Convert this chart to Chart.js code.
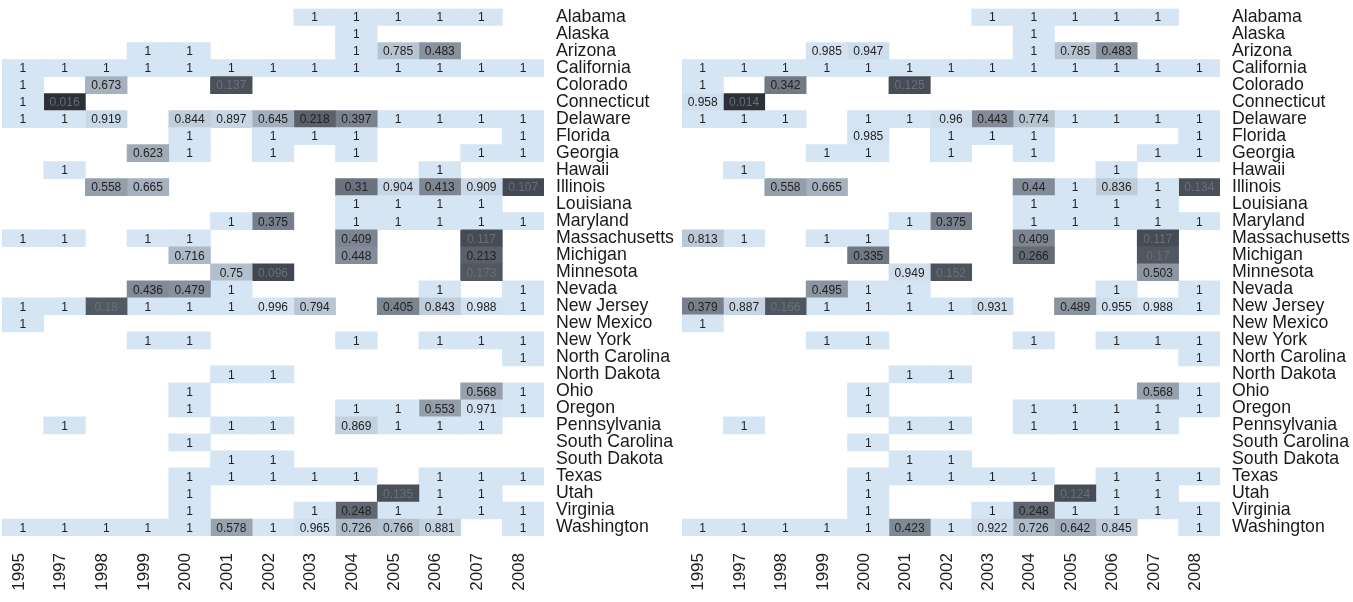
<!DOCTYPE html>
<html>
<head>
<meta charset="utf-8">
<script src="https://cdn.jsdelivr.net/npm/chart.js@4/dist/chart.umd.min.js"></script>
<style>
  body { margin: 0; background: #fff; }
  .panel { position: absolute; top: 0; height: 602px; }
  #leftBox { left: 0; width: 676px; }
  #rightBox { left: 676px; width: 677px; }
</style>
</head>
<body>
<div class="panel" id="leftBox"><canvas id="leftChart"></canvas></div>
<div class="panel" id="rightBox"><canvas id="rightChart"></canvas></div>
<script>
const _ = null;

const years = ['1995', '1997', '1998', '1999', '2000', '2001', '2002', '2003', '2004', '2005', '2006', '2007', '2008'];

const states = [
    'Alabama', 'Alaska', 'Arizona', 'California', 'Colorado', 'Connecticut', 'Delaware',
    'Florida', 'Georgia', 'Hawaii', 'Illinois', 'Louisiana', 'Maryland', 'Massachusetts',
    'Michigan', 'Minnesota', 'Nevada', 'New Jersey', 'New Mexico', 'New York',
    'North Carolina', 'North Dakota', 'Ohio', 'Oregon', 'Pennsylvania', 'South Carolina',
    'South Dakota', 'Texas', 'Utah', 'Virginia', 'Washington',
];

// one row per state, one entry per year (null = no cell)
const leftRows = [
    [_, _, _, _, _, _, _, 1, 1, 1, 1, 1, _],
    [_, _, _, _, _, _, _, _, 1, _, _, _, _],
    [_, _, _, 1, 1, _, _, _, 1, 0.785, 0.483, _, _],
    [1, 1, 1, 1, 1, 1, 1, 1, 1, 1, 1, 1, 1],
    [1, _, 0.673, _, _, 0.137, _, _, _, _, _, _, _],
    [1, 0.016, _, _, _, _, _, _, _, _, _, _, _],
    [1, 1, 0.919, _, 0.844, 0.897, 0.645, 0.218, 0.397, 1, 1, 1, 1],
    [_, _, _, _, 1, _, 1, 1, 1, _, _, _, 1],
    [_, _, _, 0.623, 1, _, 1, _, 1, _, _, 1, 1],
    [_, 1, _, _, _, _, _, _, _, _, 1, _, _],
    [_, _, 0.558, 0.665, _, _, _, _, 0.31, 0.904, 0.413, 0.909, 0.107],
    [_, _, _, _, _, _, _, _, 1, 1, 1, 1, _],
    [_, _, _, _, _, 1, 0.375, _, 1, 1, 1, 1, 1],
    [1, 1, _, 1, 1, _, _, _, 0.409, _, _, 0.117, _],
    [_, _, _, _, 0.716, _, _, _, 0.448, _, _, 0.213, _],
    [_, _, _, _, _, 0.75, 0.096, _, _, _, _, 0.173, _],
    [_, _, _, 0.436, 0.479, 1, _, _, _, _, 1, _, 1],
    [1, 1, 0.18, 1, 1, 1, 0.996, 0.794, _, 0.405, 0.843, 0.988, 1],
    [1, _, _, _, _, _, _, _, _, _, _, _, _],
    [_, _, _, 1, 1, _, _, _, 1, _, 1, 1, 1],
    [_, _, _, _, _, _, _, _, _, _, _, _, 1],
    [_, _, _, _, _, 1, 1, _, _, _, _, _, _],
    [_, _, _, _, 1, _, _, _, _, _, _, 0.568, 1],
    [_, _, _, _, 1, _, _, _, 1, 1, 0.553, 0.971, 1],
    [_, 1, _, _, _, 1, 1, _, 0.869, 1, 1, 1, _],
    [_, _, _, _, 1, _, _, _, _, _, _, _, _],
    [_, _, _, _, _, 1, 1, _, _, _, _, _, _],
    [_, _, _, _, 1, 1, 1, 1, 1, _, 1, 1, 1],
    [_, _, _, _, 1, _, _, _, _, 0.135, 1, 1, _],
    [_, _, _, _, 1, _, _, 1, 0.248, 1, 1, 1, 1],
    [1, 1, 1, 1, 1, 0.578, 1, 0.965, 0.726, 0.766, 0.881, _, 1],
];

const rightRows = [
    [_, _, _, _, _, _, _, 1, 1, 1, 1, 1, _],
    [_, _, _, _, _, _, _, _, 1, _, _, _, _],
    [_, _, _, 0.985, 0.947, _, _, _, 1, 0.785, 0.483, _, _],
    [1, 1, 1, 1, 1, 1, 1, 1, 1, 1, 1, 1, 1],
    [1, _, 0.342, _, _, 0.125, _, _, _, _, _, _, _],
    [0.958, 0.014, _, _, _, _, _, _, _, _, _, _, _],
    [1, 1, 1, _, 1, 1, 0.96, 0.443, 0.774, 1, 1, 1, 1],
    [_, _, _, _, 0.985, _, 1, 1, 1, _, _, _, 1],
    [_, _, _, 1, 1, _, 1, _, 1, _, _, 1, 1],
    [_, 1, _, _, _, _, _, _, _, _, 1, _, _],
    [_, _, 0.558, 0.665, _, _, _, _, 0.44, 1, 0.836, 1, 0.134],
    [_, _, _, _, _, _, _, _, 1, 1, 1, 1, _],
    [_, _, _, _, _, 1, 0.375, _, 1, 1, 1, 1, 1],
    [0.813, 1, _, 1, 1, _, _, _, 0.409, _, _, 0.117, _],
    [_, _, _, _, 0.335, _, _, _, 0.266, _, _, 0.17, _],
    [_, _, _, _, _, 0.949, 0.152, _, _, _, _, 0.503, _],
    [_, _, _, 0.495, 1, 1, _, _, _, _, 1, _, 1],
    [0.379, 0.887, 0.166, 1, 1, 1, 1, 0.931, _, 0.489, 0.955, 0.988, 1],
    [1, _, _, _, _, _, _, _, _, _, _, _, _],
    [_, _, _, 1, 1, _, _, _, 1, _, 1, 1, 1],
    [_, _, _, _, _, _, _, _, _, _, _, _, 1],
    [_, _, _, _, _, 1, 1, _, _, _, _, _, _],
    [_, _, _, _, 1, _, _, _, _, _, _, 0.568, 1],
    [_, _, _, _, 1, _, _, _, 1, 1, 1, 1, 1],
    [_, 1, _, _, _, 1, 1, _, 1, 1, 1, 1, _],
    [_, _, _, _, 1, _, _, _, _, _, _, _, _],
    [_, _, _, _, _, 1, 1, _, _, _, _, _, _],
    [_, _, _, _, 1, 1, 1, 1, 1, _, 1, 1, 1],
    [_, _, _, _, 1, _, _, _, _, 0.124, 1, 1, _],
    [_, _, _, _, 1, _, _, 1, 0.248, 1, 1, 1, 1],
    [1, 1, 1, 1, 1, 0.423, 1, 0.922, 0.726, 0.642, 0.845, _, 1],
];

const FONT = "'Liberation Sans', Arial, sans-serif";

function cellColor(v) {
    const t = Math.pow(v, 0.8);
    const lo = [38, 42, 50];
    const hi = [214, 229, 244];
    const c = lo.map((a, i) => Math.round(a + (hi[i] - a) * t));
    return `rgb(${c[0]}, ${c[1]}, ${c[2]})`;
}

const cellText = {
    id: 'cellText',
    afterDatasetsDraw(chart) {
        const ctx = chart.ctx;
        ctx.save();
        ctx.font = `12px ${FONT}`;
        ctx.textAlign = 'center';
        ctx.textBaseline = 'middle';
        chart.data.datasets.forEach((ds, di) => {
            const meta = chart.getDatasetMeta(di);
            meta.data.forEach((bar, ri) => {
                const v = ds.values[ri];
                if (v == null) return;
                const p = bar.getCenterPoint();
                ctx.fillStyle = v < 0.2 ? '#6a6e76' : '#222';
                ctx.fillText(String(v), p.x, p.y + 1);
            });
        });
        ctx.restore();
    },
};

function makeHeatmap(canvasId, rows, padLeft, axisWidth) {
    // one dataset per year column, floating bars spanning [col, col + 1]
    const datasets = years.map((year, c) => {
        const values = rows.map((r) => r[c]);
        return {
            label: year,
            values: values,
            data: values.map((v) => (v == null ? null : [c, c + 1])),
            backgroundColor: values.map((v) => (v == null ? 'transparent' : cellColor(v))),
            borderWidth: 0,
            barPercentage: 1,
            categoryPercentage: 1,
            grouped: false,
        };
    });

    new Chart(document.getElementById(canvasId), {
        type: 'bar',
        data: { labels: states, datasets: datasets },
        options: {
            indexAxis: 'y',
            responsive: true,
            maintainAspectRatio: false,
            animation: false,
            layout: { padding: { left: padLeft, top: 8.5, right: 0, bottom: 0 } },
            plugins: {
                legend: { display: false },
                tooltip: { enabled: false },
            },
            scales: {
                x: {
                    type: 'linear',
                    min: 0,
                    max: years.length,
                    grid: { display: false, drawTicks: false },
                    border: { display: false },
                    afterBuildTicks: (scale) => {
                        scale.ticks = years.map((y, i) => ({ value: i + 0.5 }));
                    },
                    afterFit: (scale) => {
                        scale.height = 66;
                        scale.paddingLeft = 0;
                        scale.paddingRight = 0;
                    },
                    ticks: {
                        autoSkip: false,
                        minRotation: 90,
                        maxRotation: 90,
                        padding: 17,
                        labelOffset: -4,
                        color: '#222',
                        font: { family: FONT, size: 17 },
                        callback: (value, index) => years[index],
                    },
                },
                y: {
                    position: 'right',
                    grid: { display: false, drawTicks: false },
                    border: { display: false },
                    afterFit: (scale) => {
                        scale.width = axisWidth;
                        scale.paddingTop = 0;
                        scale.paddingBottom = 0;
                    },
                    ticks: {
                        autoSkip: false,
                        padding: 12,
                        color: '#1a1a1a',
                        font: { family: FONT, size: 17.7 },
                    },
                },
            },
        },
        plugins: [cellText],
    });
}

makeHeatmap('leftChart', leftRows, 2, 132);
makeHeatmap('rightChart', rightRows, 6, 133);
</script>
</body>
</html>
